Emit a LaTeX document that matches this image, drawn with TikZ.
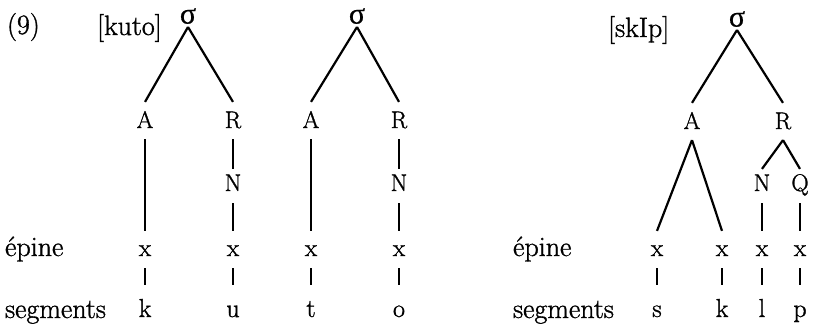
\documentclass[tikz,border=0pt]{standalone}
\usepackage{fontspec}
\setmainfont{Latin Modern Roman}[FakeBold=1.2]
\newfontfamily\grk{Liberation Serif}[FakeBold=0.6]
\begin{document}
\begin{tikzpicture}[x=1pt,y=-1pt,line width=2.2pt,
  big/.style={font=\fontsize{28}{32}\selectfont,inner sep=0pt,anchor=base west},
  sig/.style={font=\grk\fontsize{30}{34}\selectfont,inner sep=2pt,anchor=south},
  arow/.style={font=\fontsize{24}{26}\selectfont,inner sep=0pt,anchor=base,text height=25pt,text depth=10pt},
  nrow/.style={font=\fontsize{24}{26}\selectfont,inner sep=0pt,anchor=base,text height=21pt,text depth=11pt},
  xrow/.style={font=\fontsize{25}{27}\selectfont,inner sep=0pt,anchor=base,text height=24pt,text depth=11pt},
  srow/.style={font=\fontsize{26}{28}\selectfont,inner sep=0pt,anchor=base,text height=31pt,text depth=0pt},
]
\useasboundingbox (0,0) rectangle (815,327);
% labels
\node[big] (num) at (6,34) {(9)};
\node[big] (kuto) at (96,35) {[kuto]};
\node[big] (skip) at (607,37) {[skIp]};
\node[big] (ep1) at (4,256) {épine};
\node[big] (sg1) at (4,318) {segments};
\node[big] (ep2) at (512,256) {épine};
\node[big] (sg2) at (512,318) {segments};
% tree 1
\node[sig] (s1) at (188,27) {σ};
\node[arow] (a1) at (145,128) {A};
\node[arow] (r1) at (233,128) {R};
\node[nrow] (n1) at (233,191) {N};
\node[xrow] (x1) at (145,256) {x};
\node[xrow] (x2) at (233,256) {x};
\node[srow] (k1) at (145,317) {k};
\node[srow] (u1) at (233,317) {u};
\draw (s1.south) -- (a1.north);
\draw (s1.south) -- (r1.north);
\draw (a1.south) -- (x1.north);
\draw (r1.south) -- (n1.north);
\draw (n1.south) -- (x2.north);
\draw (x1.south) -- (k1.north);
\draw (x2.south) -- (u1.north);
% tree 2
\node[sig] (s2) at (357,27) {σ};
\node[arow] (a2) at (311,128) {A};
\node[arow] (r2) at (399,128) {R};
\node[nrow] (n2) at (399,191) {N};
\node[xrow] (x3) at (311,256) {x};
\node[xrow] (x4) at (399,256) {x};
\node[srow] (t1) at (311,317) {t};
\node[srow] (o1) at (399,317) {o};
\draw (s2.south) -- (a2.north);
\draw (s2.south) -- (r2.north);
\draw (a2.south) -- (x3.north);
\draw (r2.south) -- (n2.north);
\draw (n2.south) -- (x4.north);
\draw (x3.south) -- (t1.north);
\draw (x4.south) -- (o1.north);
% tree 3
\node[sig] (s3) at (737,30) {σ};
\node[arow] (a3) at (692,129) {A};
\node[arow] (r3) at (783,129) {R};
\node[nrow] (n3) at (762,191) {N};
\node[nrow] (q3) at (800,191) {Q};
\node[xrow] (x5) at (657,256) {x};
\node[xrow] (x6) at (722,256) {x};
\node[xrow] (x7) at (762,256) {x};
\node[xrow] (x8) at (800,256) {x};
\node[srow] (s4) at (657,317) {s};
\node[srow] (k2) at (722,317) {k};
\node[srow] (l1) at (762,317) {l};
\node[srow] (p1) at (800,317) {p};
\draw (s3.south) -- (a3.north);
\draw (s3.south) -- (r3.north);
\draw (a3.south) -- (x5.north);
\draw (a3.south) -- (x6.north);
\draw (r3.south) -- (n3.north);
\draw (r3.south) -- (q3.north);
\draw (n3.south) -- (x7.north);
\draw (q3.south) -- (x8.north);
\draw (x5.south) -- (s4.north);
\draw (x6.south) -- (k2.north);
\draw (x7.south) -- (l1.north);
\draw (x8.south) -- (p1.north);
\end{tikzpicture}
\end{document}
